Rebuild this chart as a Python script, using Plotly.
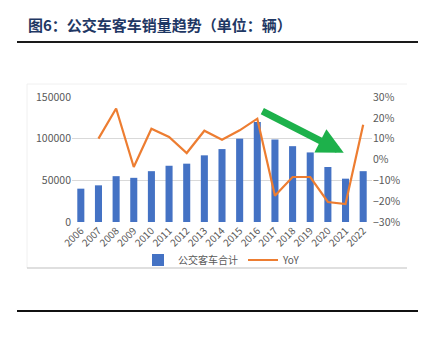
import plotly.graph_objects as go

years = list(range(2006, 2023))
sales = [40000, 44000, 55000, 53000, 61000, 67500, 70000, 80000, 87500, 100000,
         120000, 99000, 91000, 83500, 66000, 52000, 61000]
yoy = [None, 0.10, 0.245, -0.036, 0.148, 0.108, 0.031, 0.138, 0.095, 0.140,
       0.196, -0.174, -0.084, -0.084, -0.204, -0.214, 0.167]
bar_name = "公交客车合计"
line_name = "YoY"
title_text = "图6：公交车客车销量趋势（单位：辆）"

FONT = "Noto Sans CJK SC, Noto Sans, sans-serif"
GREY = "#595959"

fig = go.Figure()
fig.add_trace(go.Bar(x=years, y=sales, name=bar_name, marker_color="#4472C4",
                     marker_line_width=0, yaxis="y"))
fig.add_trace(go.Scatter(x=years, y=yoy, name=line_name, mode="lines",
                         line=dict(color="#ED7D31", width=2.2), yaxis="y2"))

def px_x(p):
    return (p - 72) / 300

def px_y(p):
    return (222 - p) / 125

fig.update_layout(
    width=423, height=343,
    margin=dict(l=72, r=51, t=97, b=121),
    paper_bgcolor="white", plot_bgcolor="white",
    bargap=0.6,
    font=dict(family=FONT, color=GREY, size=10),
    xaxis=dict(range=[2005.5, 2022.5], tickmode="array", tickvals=years,
               ticktext=[str(y) for y in years], tickangle=-45,
               showgrid=False, showline=False, zeroline=False,
               tickfont=dict(size=10, color=GREY), ticks=""),
    yaxis=dict(range=[0, 150000], dtick=50000, showgrid=True, gridcolor="#D9D9D9",
               gridwidth=1, zeroline=False, showline=False, tickformat="d",
               tickfont=dict(size=10.5, color=GREY), ticks=""),
    yaxis2=dict(range=[-0.3, 0.3], dtick=0.1, overlaying="y", side="right",
                tickformat=".0%", showgrid=False, zeroline=False, showline=False,
                tickfont=dict(size=10.5, color=GREY), ticks=""),
    legend=dict(orientation="h", x=px_x(222), y=px_y(260), xanchor="center",
                yanchor="middle", font=dict(size=10, color=GREY),
                bgcolor="rgba(0,0,0,0)", itemwidth=30, tracegroupgap=0),
    showlegend=True,
)

shapes = [
    dict(type="line", xref="paper", yref="paper", x0=px_x(17), x1=px_x(418),
         y0=px_y(42), y1=px_y(42), line=dict(color="#1a1a1a", width=2)),
    dict(type="line", xref="paper", yref="paper", x0=px_x(17), x1=px_x(418),
         y0=px_y(311), y1=px_y(311), line=dict(color="#111111", width=2)),
    dict(type="line", xref="paper", yref="paper", x0=px_x(27), x1=px_x(407),
         y0=px_y(84), y1=px_y(84), line=dict(color="#F0F0F0", width=1)),
    dict(type="line", xref="paper", yref="paper", x0=px_x(27), x1=px_x(27),
         y0=px_y(84), y1=px_y(268), line=dict(color="#F0F0F0", width=1)),
    dict(type="line", xref="paper", yref="paper", x0=px_x(27), x1=px_x(407),
         y0=px_y(268), y1=px_y(268), line=dict(color="#BFBFBF", width=1)),
]
fig.update_layout(shapes=shapes)

fig.add_annotation(text="<b>" + title_text + "</b>", xref="paper", yref="paper",
                   x=px_x(26), y=px_y(25), xanchor="left", yanchor="middle",
                   showarrow=False, font=dict(family=FONT, size=15, color="#1F3864"))

fig.add_annotation(x=2020.9, y=83000, ax=2016.2, ay=134000, xref="x", yref="y",
                   axref="x", ayref="y", showarrow=True, arrowhead=2,
                   arrowsize=0.75, arrowwidth=7, arrowcolor="#1DB14B", text="")

fig.write_html("out.html")
